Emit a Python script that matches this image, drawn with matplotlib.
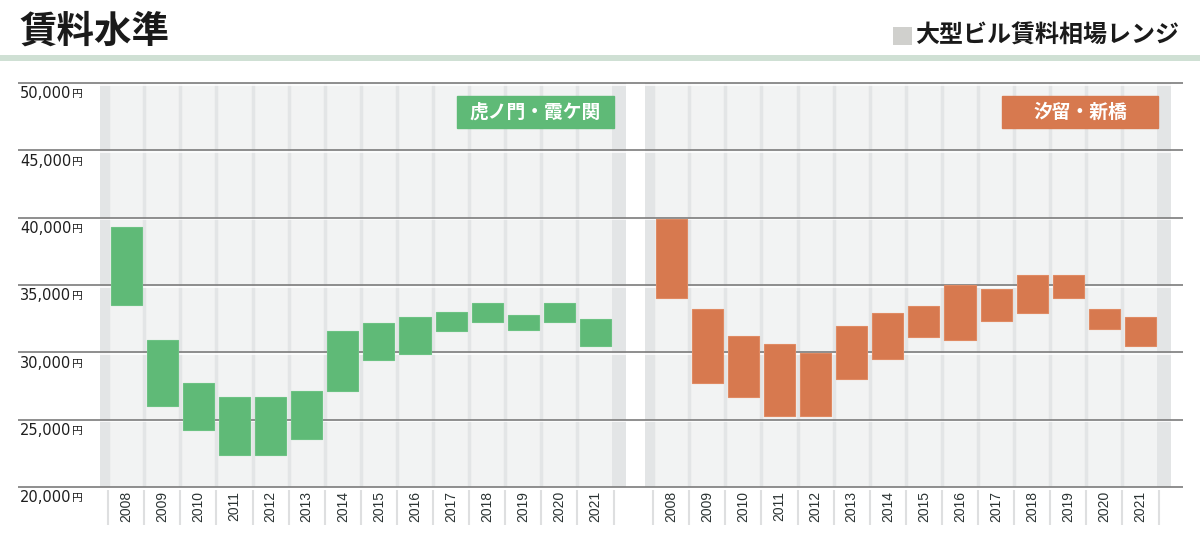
import matplotlib
matplotlib.use("Agg")
import matplotlib.pyplot as plt
from matplotlib.patches import Rectangle
import matplotlib.transforms as mtransforms
import numpy as np

# ---------------- data ----------------
years = ["2008", "2009", "2010", "2011", "2012", "2013", "2014",
         "2015", "2016", "2017", "2018", "2019", "2020", "2021"]
tora_low = [33550, 26000, 24200, 22400, 22400, 23600, 27100,
            29400, 29900, 31550, 32250, 31650, 32250, 30450]
tora_high = [39340, 30950, 27700, 26700, 26700, 27100, 31600,
             32200, 32600, 33000, 33650, 32800, 33650, 32500]
shio_low = [34000, 27700, 26650, 25300, 25300, 28000, 29500,
            31150, 30950, 32300, 32950, 34050, 31750, 30450]
shio_high = [39900, 33200, 31200, 30650, 29950, 31950, 32950,
             33450, 35000, 34700, 35750, 35750, 33250, 32600]
yticks = [20000, 25000, 30000, 35000, 40000, 45000, 50000]
ytick_labels = ["20,000", "25,000", "30,000", "35,000", "40,000", "45,000", "50,000"]
title = "賃料水準"
legend_label = "大型ビル賃料相場レンジ"
panel_labels = ["虎ノ門・霞ケ関", "汐留・新橋"]

# ---------------- style ----------------
W, H = 1200, 541
GREEN = "#5fba77"
GREEN_EDGE = "#6cc283"
ORANGE = "#d7794f"
ORANGE_EDGE = "#e08a62"
LIGHT = "#f2f3f3"
DARK = "#e3e5e6"
CJK = ["Noto Sans CJK JP", "DejaVu Sans"]
NUM = ["Liberation Sans", "DejaVu Sans"]
YNUM = ["DejaVu Sans"]

PX0, PITCH = 126.2, 36.1


def px2x(px):
    return (px - PX0) / PITCH


def fx(px):
    return px / W


def fy(py):
    return 1 - py / H


fig = plt.figure(figsize=(12, 5.41), dpi=100)
fig.patch.set_facecolor("white")

ax_left, ax_right, ax_top, ax_bot = 18, 1183, 83, 487
ax = fig.add_axes([fx(ax_left), fy(ax_bot), fx(ax_right) - fx(ax_left), fy(ax_top) - fy(ax_bot)])
ax.set_xlim(px2x(ax_left), px2x(ax_right))
ax.set_ylim(20000, 50000)
ax.axis("off")
ypp = 30000 / (ax_bot - ax_top)  # yen per pixel

n = len(years)
off2 = px2x(671.2)
panels = [
    (0.0, px2x(100), px2x(626), tora_low, tora_high, GREEN, GREEN_EDGE),
    (off2, px2x(645), px2x(1171), shio_low, shio_high, ORANGE, ORANGE_EDGE),
]

for off, dl, dr, lo, hi, col, ecol in panels:
    # dark outer margins + light body
    ax.axvspan(dl, dr, color=DARK, lw=0, zorder=0)
    ax.axvspan(off - 0.5 + 0.05, off + n - 0.5 - 0.05, color=LIGHT, lw=0, zorder=0.5)
    bounds = off - 0.5 + np.arange(n + 1)
    ax.vlines(bounds, 20000, 50000, colors=DARK, lw=2.5, zorder=0.6)
    # label-area separators
    ax.vlines(bounds, 20000 - 3 * ypp, 20000 - 38 * ypp, colors="#dedfe0", lw=1.5,
              zorder=1, clip_on=False)
    xs = off + np.arange(n)
    lo = np.array(lo)
    hi = np.array(hi)
    ax.bar(xs, hi - lo, bottom=lo, width=0.86, color=col, edgecolor=ecol, lw=0.8, zorder=3)
    for x, lab in zip(xs, years):
        ax.annotate(lab, xy=(x, 20000), xytext=(0, -3), textcoords="offset points",
                    rotation=90, ha="center", va="top", fontsize=10, color="#2b3333",
                    family=NUM, annotation_clip=False)

# gridlines with white highlight
for yv in yticks:
    ax.hlines(yv - 1.8 * ypp, *ax.get_xlim(), colors="white", lw=1.1, zorder=1.5, clip_on=False)
    ax.hlines(yv, *ax.get_xlim(), colors="#7c7c7c", lw=1.2, zorder=2, clip_on=False)

# y tick labels with small 円
blend = mtransforms.blended_transform_factory(ax.transAxes, ax.transData)
for yv, lab in zip(yticks, ytick_labels):
    t = ax.annotate(lab, xy=(0, yv), xycoords=blend, xytext=(1.5, -2.5),
                    textcoords="offset points", ha="left", va="top", fontsize=10.5,
                    color="#1e1e1e", family=YNUM, annotation_clip=False, zorder=4)
    ax.annotate("円", xy=(1, 0), xycoords=t, xytext=(0.5, 1.6), textcoords="offset points",
                ha="left", va="bottom", fontsize=7.8, color="#1e1e1e", family=CJK,
                annotation_clip=False, zorder=4)

# panel label boxes
boxes = [((457, 96, 614, 128), GREEN), ((1002, 96, 1158, 128), ORANGE)]
for (x0, y0, x1, y1), col in boxes:
    fig.patches.append(Rectangle((fx(x0), fy(y1)), fx(x1) - fx(x0), fy(y0) - fy(y1),
                                 transform=fig.transFigure, color=col, zorder=5))
for ((x0, y0, x1, y1), col), lab in zip(boxes, panel_labels):
    fig.text(fx((x0 + x1) / 2), fy((y0 + y1) / 2 + 0.5), lab, ha="center", va="center",
             fontsize=13.5, fontweight="bold", color="white", family=CJK, zorder=6)

# title, header band, legend
fig.text(fx(19), fy(31), title, ha="left", va="center", fontsize=27,
         fontweight="bold", color="#1a1a1a", family=CJK)
fig.patches.append(Rectangle((0, fy(61)), 1, fy(55) - fy(61), transform=fig.transFigure,
                             color="#cfe0d4", lw=0))
fig.patches.append(Rectangle((fx(893), fy(45)), fx(912) - fx(893), fy(27) - fy(45),
                             transform=fig.transFigure, color="#d0d0cd", lw=0))
fig.text(fx(915), fy(36), legend_label, ha="left", va="center", fontsize=17.3,
         fontweight="bold", color="#1a1a1a", family=CJK)

fig.savefig("out.png", dpi=100, facecolor="white")
